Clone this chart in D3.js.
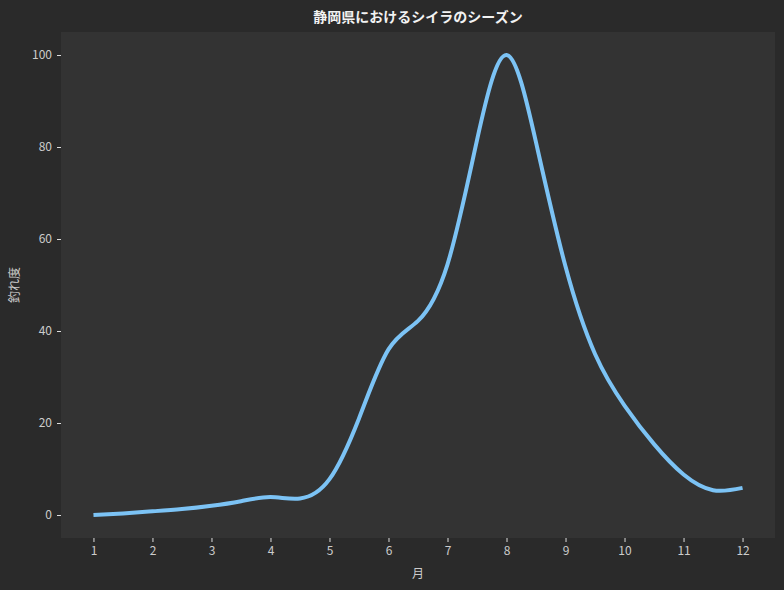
<!DOCTYPE html>
<html>
<head>
<meta charset="utf-8">
<script src="https://cdn.jsdelivr.net/npm/d3@7"></script>
<style>
  body { margin: 0; background: #2a2a2a; }
  svg { display: block; }
  text { font-family: "Noto Sans CJK JP", "Noto Sans", sans-serif; }
</style>
</head>
<body>
<div id="chart"></div>
<script>
// values, at every half month
var months = [1, 1.5, 2, 2.5, 3, 3.5, 4, 4.5, 5, 5.5, 6, 6.5, 7, 7.5, 8, 8.5, 9, 9.5, 10, 10.5, 11, 11.5, 12];
var scores = [0, 0.35, 0.8, 1.3, 2.0, 3.0, 3.9, 3.6, 7.8, 21, 36, 42.2, 54.5, 81.5, 100, 81, 54, 35, 23.8, 15.4, 8.8, 5.4, 5.9];
var xTicks = [1, 2, 3, 4, 5, 6, 7, 8, 9, 10, 11, 12];
var yTicks = [0, 20, 40, 60, 80, 100];

var svgWidth = 784;
var svgHeight = 590;

var margin = { top: 32, right: 9, bottom: 52, left: 61 };
var width = svgWidth - margin.left - margin.right;
var height = svgHeight - margin.top - margin.bottom;

var svg = d3.select("#chart")
  .append("svg")
  .attr("width", svgWidth)
  .attr("height", svgHeight);

svg.append("rect")
  .attr("width", svgWidth)
  .attr("height", svgHeight)
  .attr("fill", "#2a2a2a");

var chartGroup = svg.append("g")
  .attr("transform", `translate(${margin.left}, ${margin.top})`);

chartGroup.append("rect")
  .attr("width", width)
  .attr("height", height)
  .attr("fill", "#333333");

var x = d3.scaleLinear().domain([0.45, 12.55]).range([0, width]);
var y = d3.scaleLinear().domain([-5, 105]).range([height, 0]);

var bottomAxis = d3.axisBottom(x).tickValues(xTicks).tickSize(4).tickPadding(4);
var leftAxis = d3.axisLeft(y).tickValues(yTicks).tickSize(4).tickPadding(5);

var xAxis = chartGroup.append("g")
  .attr("transform", `translate(0, ${height})`)
  .call(bottomAxis);

var yAxis = chartGroup.append("g")
  .call(leftAxis);

[xAxis, yAxis].forEach(function(ax) {
  ax.select(".domain").remove();
  ax.selectAll("line").attr("stroke", "#dddddd");
  ax.selectAll("text")
    .attr("fill", "#cccccc")
    .style("font-size", "12px");
});

var line = d3.line()
  .x((d, i) => x(months[i]))
  .y(d => y(d))
  .curve(d3.curveNatural);

chartGroup.append("path")
  .datum(scores)
  .attr("d", line)
  .attr("fill", "none")
  .attr("stroke", "#7cc3f5")
  .attr("stroke-width", 4)
  .attr("stroke-linecap", "butt");

// title and axis labels
svg.append("text")
  .attr("x", margin.left + width / 2)
  .attr("y", 22)
  .attr("text-anchor", "middle")
  .attr("fill", "#f2f2f2")
  .style("font-size", "14px")
  .style("font-weight", "bold")
  .text("静岡県におけるシイラのシーズン");

svg.append("text")
  .attr("x", margin.left + width / 2)
  .attr("y", 578)
  .attr("text-anchor", "middle")
  .attr("fill", "#cccccc")
  .style("font-size", "12px")
  .text("月");

svg.append("text")
  .attr("transform", `translate(19, ${margin.top + height / 2}) rotate(-90)`)
  .attr("text-anchor", "middle")
  .attr("fill", "#cccccc")
  .style("font-size", "12px")
  .text("釣れ度");
</script>
</body>
</html>
